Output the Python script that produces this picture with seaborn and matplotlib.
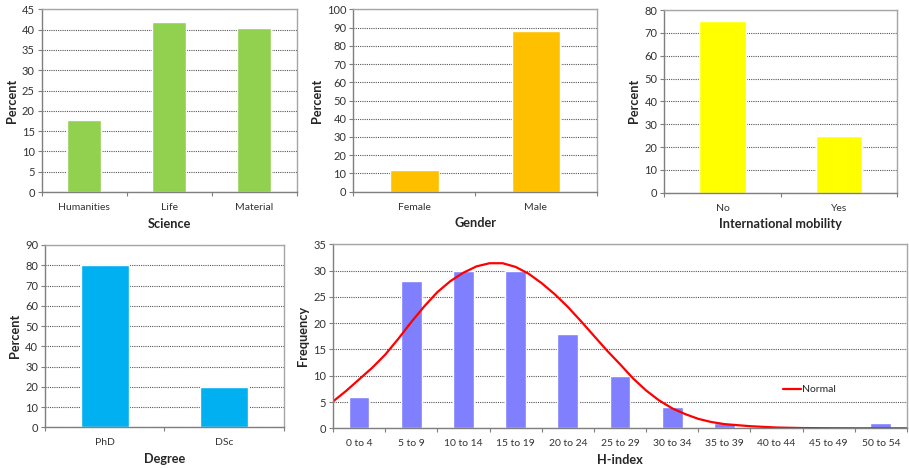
import numpy as np
import pandas as pd
import seaborn as sns
import matplotlib.pyplot as plt

# data
science_cats = ["Humanities", "Life", "Material"]
science_pct = [17.7, 41.9, 40.4]

gender_cats = ["Female", "Male"]
gender_pct = [11.9, 88.2]

mobility_cats = ["No", "Yes"]
mobility_pct = [75.0, 24.9]

degree_cats = ["PhD", "DSc"]
degree_pct = [80.0, 20.0]

hindex_cats = ["0 to 4", "5 to 9", "10 to 14", "15 to 19", "20 to 24", "25 to 29",
               "30 to 34", "35 to 39", "40 to 44", "45 to 49", "50 to 54"]
hindex_freq = [6, 28, 30, 30, 18, 10, 4, 1, 0, 0, 1]

# fitted normal curve, read at quarter-bin steps (category units)
normal_x = [-0.5, -0.25, 0, 0.25, 0.5, 0.75, 1, 1.25, 1.5, 1.75, 2, 2.25, 2.5, 2.75,
            3, 3.25, 3.5, 3.75, 4, 4.25, 4.5, 4.75, 5, 5.25, 5.5, 5.75, 6, 6.25,
            6.5, 6.75, 7, 7.5, 8, 8.5, 9, 9.5, 10, 10.5]
normal_y = [5.1, 7.1, 9.3, 11.5, 14.0, 17.0, 20.2, 23.2, 25.9, 28.0, 29.6, 30.8, 31.4, 31.4,
            30.7, 29.4, 27.6, 25.5, 23.1, 20.4, 17.6, 14.8, 12.2, 9.5, 7.2, 5.3, 3.8, 2.7,
            1.8, 1.2, 0.8, 0.4, 0.15, 0.05, 0.02, 0.0, 0.0, 0.0]

sns.set_style("white")
plt.rcParams['font.family'] = ['Lato', 'DejaVu Sans']

fig = plt.figure(figsize=(9.09, 4.68), dpi=100)


def style_axes(ax, n, ymax, ystep, xlabel, ylabel):
    ax.set_xlim(-0.5, n - 0.5)
    ax.set_ylim(0, ymax)
    ax.set_yticks(np.arange(0, ymax + 0.1, ystep))
    ax.yaxis.grid(True, linestyle=(0, (1, 1)), color="#555555", linewidth=0.8)
    ax.set_axisbelow(True)
    for s in ["left", "bottom"]:
        ax.spines[s].set_color("#7f7f7f")
        ax.spines[s].set_linewidth(1.0)
    for s in ["top", "right"]:
        ax.spines[s].set_color("#a6a6a6")
        ax.spines[s].set_linewidth(1.0)
    ax.tick_params(axis="y", direction="out", length=3, width=0.8, color="#7f7f7f",
                   labelsize=8, pad=2, labelcolor="#333333", left=True)
    ax.tick_params(axis="x", which="major", length=0, labelsize=7.5, pad=8,
                   labelcolor="#333333")
    ax.set_xticks(np.arange(-0.5, n, 1), minor=True)
    ax.tick_params(axis="x", which="minor", direction="out", length=3, width=0.8,
                   color="#7f7f7f", bottom=True)
    ax.set_xlabel(xlabel, fontsize=9.2, fontweight="bold", labelpad=4)
    ax.set_ylabel(ylabel, fontsize=9.2, fontweight="bold", labelpad=3)


# top left: science
ax1 = fig.add_axes([0.0459, 0.5897, 0.2805, 0.3904])
sns.barplot(x=science_cats, y=science_pct, color="#92D050", saturation=1, width=0.4, ax=ax1)
style_axes(ax1, 3, 45, 5, "Science", "Percent")

# top middle: gender
ax2 = fig.add_axes([0.3887, 0.5904, 0.2678, 0.3897])
sns.barplot(x=gender_cats, y=gender_pct, color="#FFC000", saturation=1, width=0.4, ax=ax2)
style_axes(ax2, 2, 100, 10, "Gender", "Percent")

# top right: mobility
ax3 = fig.add_axes([0.7308, 0.5882, 0.2563, 0.3904])
sns.barplot(x=mobility_cats, y=mobility_pct, color="#FFFF00", saturation=1, width=0.4, ax=ax3)
style_axes(ax3, 2, 80, 10, "International mobility", "Percent")

# bottom left: degree
ax4 = fig.add_axes([0.0495, 0.0870, 0.2629, 0.3895])
sns.barplot(x=degree_cats, y=degree_pct, color="#00B0F0", saturation=1, width=0.4, ax=ax4)
style_axes(ax4, 2, 90, 10, "Degree", "Percent")

# bottom right: h-index histogram + normal curve
ax5 = fig.add_axes([0.3663, 0.0848, 0.6315, 0.3932])
sns.barplot(x=hindex_cats, y=hindex_freq, color="#8080FF", saturation=1, width=0.4, ax=ax5)
sns.lineplot(x=normal_x, y=normal_y, color="#FF0000", linewidth=1.6, label="Normal", ax=ax5)
style_axes(ax5, 11, 35, 5, "H-index", "Frequency")
ax5.legend(loc="center left", bbox_to_anchor=(0.775, 0.21), frameon=False, fontsize=7.5,
           handlelength=1.7, handletextpad=0.1, borderpad=0)

fig.savefig("out.png", dpi=100)
